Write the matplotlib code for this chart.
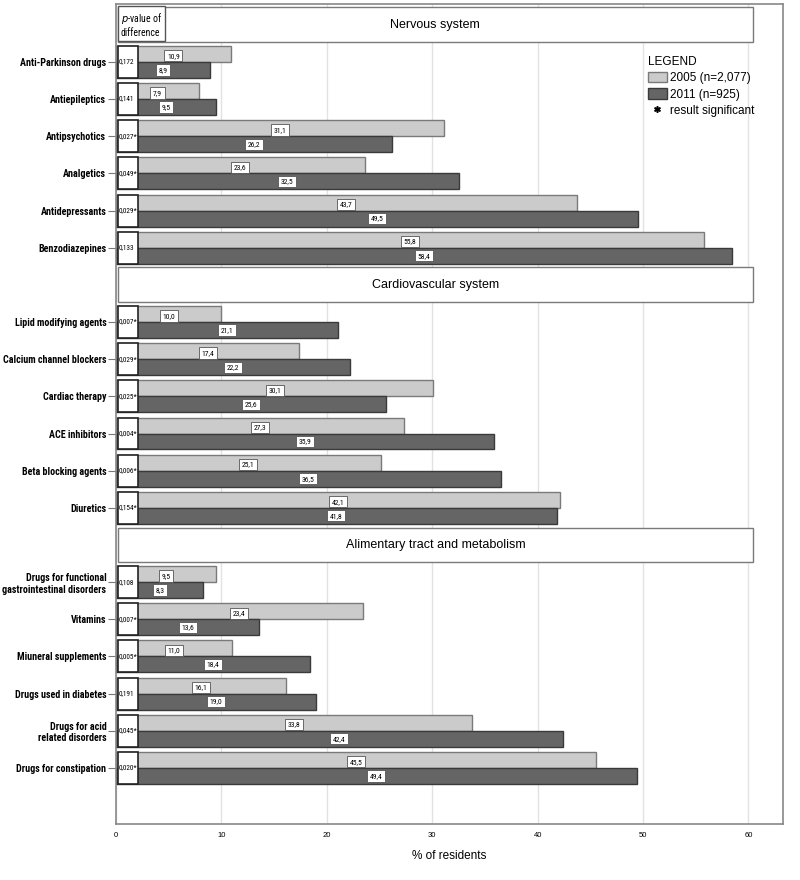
import matplotlib
matplotlib.use('Agg')
import matplotlib.pyplot as plt
from matplotlib.patches import Rectangle, Patch
from matplotlib.lines import Line2D

plt.rcParams['font.family'] = ['Liberation Sans', 'DejaVu Sans']
NARROW = ['Roboto Condensed', 'Arial Narrow', 'Liberation Sans Narrow', 'Archivo Narrow',
          'PT Sans Narrow', 'Liberation Sans', 'DejaVu Sans']

# --- data ---
sections = ['Nervous system', 'Cardiovascular system', 'Alimentary tract and metabolism']

nervous_drugs = ['Anti-Parkinson drugs', 'Antiepileptics', 'Antipsychotics',
                 'Analgetics', 'Antidepressants', 'Benzodiazepines']
nervous_2005 = [10.9, 7.9, 31.1, 23.6, 43.7, 55.8]
nervous_2011 = [8.9, 9.5, 26.2, 32.5, 49.5, 58.4]
nervous_p = ['0,172', '0,141', '0,027*', '0,049*', '0,029*', '0,133']

cardio_drugs = ['Lipid modifying agents', 'Calcium channel blockers', 'Cardiac therapy',
                'ACE inhibitors', 'Beta blocking agents', 'Diuretics']
cardio_2005 = [10.0, 17.4, 30.1, 27.3, 25.1, 42.1]
cardio_2011 = [21.1, 22.2, 25.6, 35.9, 36.5, 41.8]
cardio_p = ['0,007*', '0,029*', '0,025*', '0,004*', '0,006*', '0,154*']

alim_drugs = ['Drugs for functional\ngastrointestinal disorders', 'Vitamins',
              'Miuneral supplements', 'Drugs used in diabetes',
              'Drugs for acid\nrelated disorders', 'Drugs for constipation']
alim_2005 = [9.5, 23.4, 11.0, 16.1, 33.8, 45.5]
alim_2011 = [8.3, 13.6, 18.4, 19.0, 42.4, 49.4]
alim_p = ['0,108', '0,007*', '0,005*', '0,191', '0,045*', '0,020*']

groups = [
    (nervous_drugs, nervous_2005, nervous_2011, nervous_p),
    (cardio_drugs, cardio_2005, cardio_2011, cardio_p),
    (alim_drugs, alim_2005, alim_2011, alim_p),
]

LIGHT = '#cbcbcb'
LIGHT_EDGE = '#7a7a7a'
DARK = '#656565'
DARK_EDGE = '#3a3a3a'
H = 0.43

fig = plt.figure(figsize=(8, 8.8), dpi=100)
ax = fig.add_axes([0.145, 0.064, 0.834, 0.9315])

ytick_pos, ytick_lab = [], []
slot = 0
for sec, (names, v05, v11, pvals) in zip(sections, groups):
    # section header box
    ax.add_patch(Rectangle((0.2, slot - 0.47), 60.2, 0.94, facecolor='white',
                           edgecolor='#7a7a7a', linewidth=1.0, zorder=3))
    ax.text(30.3, slot, sec, ha='center', va='center', fontsize=9, zorder=4)
    slot += 1
    for name, a, b, p in zip(names, v05, v11, pvals):
        ax.barh(slot - H / 2, a, height=H, color=LIGHT, edgecolor=LIGHT_EDGE, linewidth=1.0, zorder=2)
        ax.barh(slot + H / 2, b, height=H, color=DARK, edgecolor=DARK_EDGE, linewidth=1.0, zorder=2)
        lab = dict(boxstyle='square,pad=0.35', facecolor='white', edgecolor='#555555', linewidth=0.6)
        ax.text(a / 2, slot - H / 2 + 0.05, f'{a:.1f}'.replace('.', ','), ha='center', va='center',
                fontsize=5.5, family=NARROW, bbox=lab, zorder=4)
        ax.text(b / 2, slot + H / 2, f'{b:.1f}'.replace('.', ','), ha='center', va='center',
                fontsize=5.5, family=NARROW, bbox=lab, zorder=4)
        ax.add_patch(Rectangle((0.15, slot - 0.43), 1.95, 0.86, facecolor='white',
                               edgecolor='#222222', linewidth=1.2, zorder=4))
        ax.text(0.22, slot, p, ha='left', va='center', fontsize=5.2, family=NARROW, zorder=5)
        ytick_pos.append(slot)
        ytick_lab.append(name)
        slot += 1

# p-value caption inside the first header
ax.text(0.45, 0, r'$\it{p}$-value of' + '\ndifference', ha='left', va='center', fontsize=7,
        family=NARROW, linespacing=1.3, zorder=5,
        bbox=dict(boxstyle='square,pad=0.3', facecolor='white', edgecolor='#555555', linewidth=1.0))

ax.set_xlim(0, 63.3)
ax.set_ylim(21.5, -0.56)
ax.set_xticks([0, 10, 20, 30, 40, 50, 60])
ax.tick_params(axis='x', labelsize=5.5, length=0, pad=6)
ax.set_yticks(ytick_pos)
ax.set_yticklabels(ytick_lab, fontsize=7.2, fontweight='bold', family=NARROW)
ax.tick_params(axis='y', length=6, color='#777777', width=0.8, pad=1)
ax.grid(axis='x', color='#e2e2e2', linewidth=1.0, zorder=0)
ax.set_axisbelow(True)
for s in ax.spines.values():
    s.set_color('#888888')
    s.set_linewidth(1.2)
ax.set_xlabel('% of residents', fontsize=8.5, labelpad=8)

handles = [Patch(facecolor=LIGHT, edgecolor=LIGHT_EDGE),
           Patch(facecolor=DARK, edgecolor=DARK_EDGE),
           Line2D([], [], marker='$*$', color='black', linestyle='none', markersize=4)]
leg = ax.legend(handles, ['2005 (n=2,077)', '2011 (n=925)', 'result significant'],
                title='LEGEND', loc='upper left', bbox_to_anchor=(0.797, 0.937),
                frameon=False, fontsize=8.5, title_fontsize=8.5, handlelength=1.6,
                handleheight=1.0, handletextpad=0.3, labelspacing=0.35,
                borderaxespad=0, borderpad=0, alignment='left')

fig.savefig('out.png', dpi=100)
